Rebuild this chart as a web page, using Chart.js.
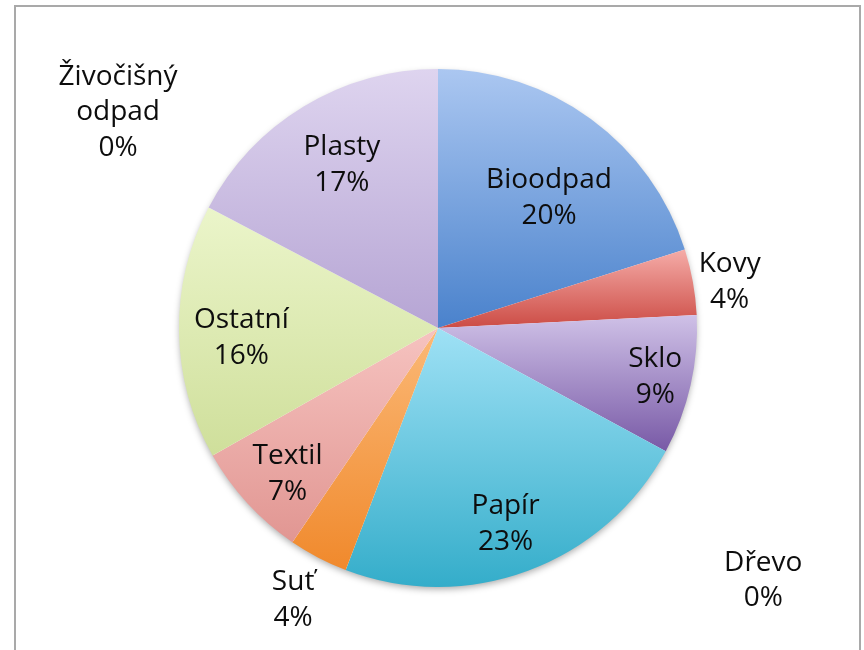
<!DOCTYPE html>
<html>
<head>
<meta charset="utf-8">
<script src="https://cdn.jsdelivr.net/npm/chart.js@4/dist/chart.umd.min.js"></script>
<style>
  html, body { margin: 0; padding: 0; background: #ffffff; }
  canvas { display: block; }
</style>
</head>
<body>
<canvas id="c" width="864" height="650"></canvas>
<script>
// ---- data ----
const categories = ['Bioodpad', 'Kovy', 'Sklo', 'Dřevo', 'Papír', 'Suť', 'Textil', 'Ostatní', 'Plasty', 'Živočišný odpad'];
const values = [20.1, 4.1, 8.7, 0, 22.9, 3.7, 7.3, 15.9, 17.3, 0];

// ---- styles (kept apart from data) ----
const gradTop = ['#abc7f1', '#f5aca8', '#cfc1e7', '#b7d27a', '#9fe1f5', '#fbb977', '#f6c3c0', '#ebf5ca', '#ded4ef', '#e0e0e0'];
const gradBottom = ['#4a82cc', '#cc4c45', '#7859a6', '#8aa84a', '#34adca', '#f0892c', '#e19692', '#cfdf9b', '#b6a5d4', '#b0b0b0'];
// label placement: radial factor and angle offset (deg) from slice mid-angle
const labelPlace = [
  {r: 0.66, da: 4.3}, {r: 1.14, da: 1.3}, {r: 0.86, da: 0}, {r: 1.59, da: 9.4},
  {r: 0.80, da: 1.3}, {r: 1.19, da: 0.5}, {r: 0.81, da: -1.5}, {r: 0.76, da: -2},
  {r: 0.73, da: 0.6}, {r: 1.49, da: -56}
];

const total = values.reduce((a, b) => a + b, 0);

const gradientPlugin = {
  id: 'sliceGradient',
  beforeDatasetsDraw(chart) {
    const ctx = chart.ctx;
    const meta = chart.getDatasetMeta(0);
    const el0 = meta.data[0];
    if (el0) {
      ctx.save();
      ctx.beginPath();
      ctx.arc(el0.x, el0.y, el0.outerRadius - 1, 0, Math.PI * 2);
      ctx.shadowColor = 'rgba(0,0,0,0.35)';
      ctx.shadowBlur = 7;
      ctx.shadowOffsetY = 3;
      ctx.fillStyle = '#ffffff';
      ctx.fill();
      ctx.restore();
    }
    meta.data.forEach((el, i) => {
      const a0 = el.startAngle, a1 = el.endAngle;
      let ymin = el.y, ymax = el.y;
      const n = 40;
      for (let k = 0; k <= n; k++) {
        const a = a0 + (a1 - a0) * k / n;
        const y = el.y + Math.sin(a) * el.outerRadius;
        ymin = Math.min(ymin, y); ymax = Math.max(ymax, y);
      }
      if (ymax - ymin < 1) ymax = ymin + 1;
      const g = ctx.createLinearGradient(0, ymin, 0, ymax);
      g.addColorStop(0, gradTop[i]);
      g.addColorStop(1, gradBottom[i]);
      el.options.backgroundColor = g;
    });
  }
};

const labelPlugin = {
  id: 'sliceLabels',
  afterDatasetsDraw(chart) {
    const ctx = chart.ctx;
    const meta = chart.getDatasetMeta(0);
    ctx.save();
    ctx.font = '28px "Open Sans", "DejaVu Sans", sans-serif';
    ctx.fillStyle = '#0d0d0d';
    ctx.textAlign = 'center';
    ctx.textBaseline = 'middle';
    const lh = 35.5;
    meta.data.forEach((el, i) => {
      const p = labelPlace[i];
      const mid = (el.startAngle + el.endAngle) / 2 + p.da * Math.PI / 180;
      const R = el.outerRadius * p.r;
      const x = el.x + Math.cos(mid) * R;
      const y = el.y + Math.sin(mid) * R;
      const pct = Math.round(values[i] / total * 100) + '%';
      const lines = categories[i].split(' ').concat([pct]);
      const y0 = y - (lines.length - 1) * lh / 2;
      lines.forEach((t, k) => ctx.fillText(t, x, y0 + k * lh));
    });
    ctx.restore();
  }
};

const framePlugin = {
  id: 'frame',
  afterDraw(chart) {
    const ctx = chart.ctx;
    ctx.save();
    ctx.strokeStyle = '#a9a9a9';
    ctx.lineWidth = 2;
    ctx.beginPath();
    ctx.moveTo(15, 660);
    ctx.lineTo(15, 6);
    ctx.lineTo(860, 6);
    ctx.lineTo(860, 660);
    ctx.stroke();
    ctx.restore();
  }
};

new Chart(document.getElementById('c'), {
  type: 'pie',
  data: {
    labels: categories,
    datasets: [{
      data: values,
      backgroundColor: gradTop,
      borderWidth: 0
    }]
  },
  options: {
    responsive: false,
    devicePixelRatio: 1,
    animation: false,
    layout: { padding: { left: 179, right: 167, top: 69, bottom: 63 } },
    plugins: {
      legend: { display: false },
      tooltip: { enabled: false }
    }
  },
  plugins: [gradientPlugin, labelPlugin, framePlugin]
});
</script>
</body>
</html>
